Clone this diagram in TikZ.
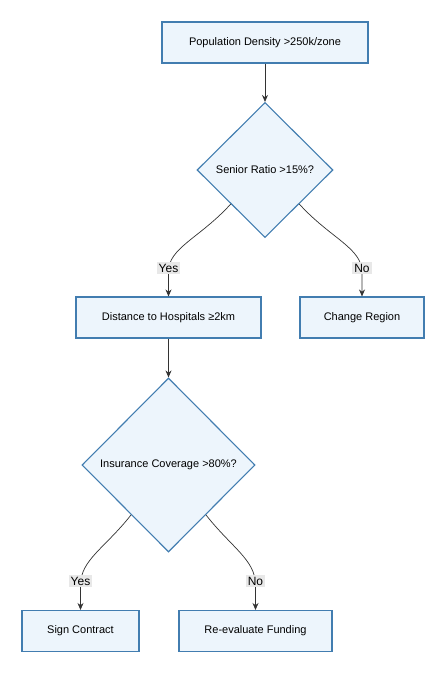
\documentclass[tikz,border=0pt]{standalone}
\usepackage{fontspec}
\setmainfont{Liberation Sans}
\usetikzlibrary{shapes.geometric,calc,arrows.meta}

\definecolor{boxfill}{RGB}{237,245,252}
\definecolor{boxline}{RGB}{66,125,176}
\definecolor{edgeline}{RGB}{51,51,51}
\definecolor{labelbg}{RGB}{232,232,232}

\tikzset{
    procbox/.style={rectangle, draw=boxline, fill=boxfill, line width=1.1pt,
        minimum height=41pt, font=\fontsize{11}{13}\selectfont},
    decision/.style={diamond, draw=boxline, fill=boxfill, line width=1.1pt,
        inner sep=0pt, font=\fontsize{11}{13}\selectfont},
    flow/.style={draw=edgeline, line width=0.7pt, -{Stealth[length=7pt,width=6pt]}},
    answer/.style={fill=labelbg, inner sep=2pt, font=\fontsize{12}{14}\selectfont}
}

\begin{document}
\begin{tikzpicture}[x=1pt, y=-1pt]
    \useasboundingbox (0,0) rectangle (446,674);

    \node[procbox, minimum width=206pt] (density) at (265,42.5) {Population Density >250k/zone};
    \node[decision, minimum width=136pt, minimum height=135pt] (senior) at (265,170) {Senior Ratio >15\%?};
    \node[procbox, minimum width=185pt] (distance) at (168.5,317.5) {Distance to Hospitals ≥2km};
    \node[procbox, minimum width=124pt] (change) at (362,317.5) {Change Region};
    \node[decision, minimum width=173pt, minimum height=174pt] (insurance) at (168.5,465) {Insurance Coverage >80\%?};
    \node[procbox, minimum width=117pt] (sign) at (80.5,631) {Sign Contract};
    \node[procbox, minimum width=153pt] (reeval) at (255.5,631) {Re-evaluate Funding};

    % top to first decision
    \draw[flow] (density) -- (senior);

    % branches of the first decision
    \draw[flow] (senior.south west) .. controls (200,238) and (168,248) .. (168.5,272) -- (distance.north);
    \draw[flow] (senior.south east) .. controls (330,238) and (362,248) .. (362,272) -- (change.north);
    \node[answer] (yes1) at (168.5,268) {Yes};
    \node[answer] (no1) at (362,268) {No};

    \draw[flow] (distance) -- (insurance);

    % branches of the second decision
    \draw[flow] ($(insurance.west)!0.57!(insurance.south)$) .. controls (105,548) and (80.5,560) .. (80.5,585) -- (sign.north);
    \draw[flow] ($(insurance.east)!0.57!(insurance.south)$) .. controls (232,548) and (255.5,560) .. (255.5,585) -- (reeval.north);
    \node[answer] (yes2) at (80.5,581) {Yes};
    \node[answer] (no2) at (255.5,581) {No};
\end{tikzpicture}
\end{document}
